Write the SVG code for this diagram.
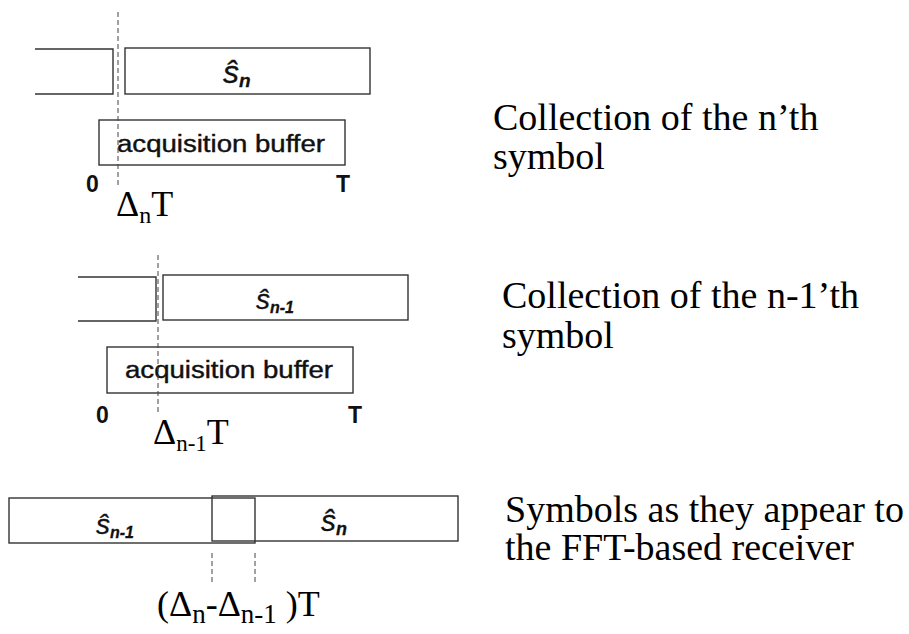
<svg xmlns="http://www.w3.org/2000/svg" width="909" height="634" viewBox="0 0 909 634">
<style>
.box{fill:none;stroke:#333;stroke-width:1.4}
.dash{fill:none;stroke:#444;stroke-width:1;stroke-dasharray:5,3}
.acq{font-family:"Liberation Sans",Arial,sans-serif;font-size:23px;fill:#111;stroke:#111;stroke-width:0.4}
.tick{font-family:"Liberation Sans",Arial,sans-serif;font-size:23px;font-weight:bold;fill:#111}
.sym{font-family:"Liberation Sans",Arial,sans-serif;font-style:italic;fill:#111;stroke:#111;stroke-width:0.3}
.sub{font-weight:bold}
.math{font-family:"Liberation Serif","Times New Roman",serif;font-size:36px;fill:#000}
.cap{font-family:"Liberation Serif","Times New Roman",serif;font-size:38px;fill:#000}
</style>
<rect width="909" height="634" fill="#fff"/>
<g id="panel1">
  <polyline class="box" points="35,49 113,49 113,94 35,94"/>
  <rect class="box" x="125" y="48" width="245" height="46"/>
  <text class="sym" x="223" y="83" font-size="32">ŝ<tspan class="sub" font-size="19" dy="4">n</tspan></text>
  <rect class="box" x="99" y="120" width="246" height="45"/>
  <text class="acq" x="117" y="152" textLength="208" lengthAdjust="spacingAndGlyphs">acquisition buffer</text>
  <text class="tick" x="86" y="192">0</text>
  <text class="tick" x="336" y="192">T</text>
  <text class="math" x="116" y="216">Δ<tspan font-size="24" dy="7">n</tspan><tspan dy="-7">T</tspan></text>
  <text class="cap" x="493" y="130">Collection of the n’th</text>
  <text class="cap" x="493" y="169">symbol</text>
</g>
<g id="panel2">
  <polyline class="box" points="78,277 156,277 156,321 78,321"/>
  <rect class="box" x="163" y="275" width="245" height="45"/>
  <text class="sym" x="256" y="309" font-size="28">ŝ<tspan class="sub" font-size="16" dy="4">n-1</tspan></text>
  <rect class="box" x="107" y="347" width="246" height="46"/>
  <text class="acq" x="125" y="378" textLength="208" lengthAdjust="spacingAndGlyphs">acquisition buffer</text>
  <text class="tick" x="96" y="423">0</text>
  <text class="tick" x="348" y="423">T</text>
  <text class="math" x="153" y="444">Δ<tspan font-size="23" dy="7">n-1</tspan><tspan dy="-7">T</tspan></text>
  <text class="cap" x="502" y="308">Collection of the n-1’th</text>
  <text class="cap" x="502" y="348">symbol</text>
</g>
<g id="panel3">
  <rect class="box" x="9" y="498" width="246" height="45"/>
  <rect class="box" x="212" y="496" width="246" height="45"/>
  <text class="sym" x="96" y="534" font-size="28">ŝ<tspan class="sub" font-size="16" dy="4">n-1</tspan></text>
  <text class="sym" x="321" y="531" font-size="30">ŝ<tspan class="sub" font-size="18" dy="4">n</tspan></text>
  <text class="math" x="157" y="616" font-size="40">(Δ<tspan font-size="27" dy="7">n</tspan><tspan dy="-7">-Δ</tspan><tspan font-size="27" dy="7">n-1</tspan><tspan dy="-7"> )T</tspan></text>
  <text class="cap" x="505" y="522">Symbols as they appear to</text>
  <text class="cap" x="505" y="560">the FFT-based receiver</text>
</g>
<g id="connectors">
  <line class="dash" x1="118" y1="12" x2="118" y2="185"/>
  <line class="dash" x1="158" y1="255" x2="158" y2="412"/>
  <line class="dash" x1="212" y1="553" x2="212" y2="582"/>
  <line class="dash" x1="255" y1="553" x2="255" y2="582"/>
</g>
</svg>
